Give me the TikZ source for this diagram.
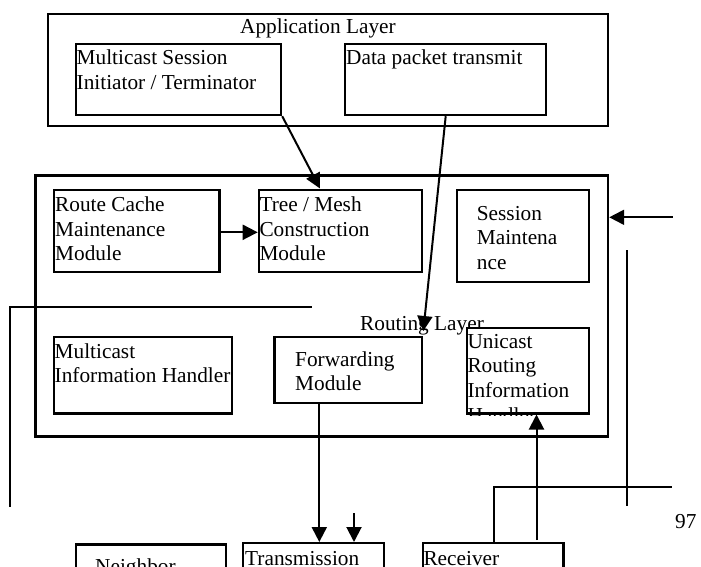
\documentclass[tikz,border=0pt]{standalone}
\usepackage{fontspec}
\setmainfont{Liberation Serif}
\usetikzlibrary{arrows.meta,calc}
\newcommand{\mlines}[1]{\begin{tabular}[t]{@{}l@{}}#1\end{tabular}}
\tikzset{
  box/.style={draw, line width=2.2pt, fill=white, inner sep=0pt, anchor=north west},
  outer/.style={draw, line width=2.5pt, inner sep=0pt, anchor=north west},
  lbl/.style={inner sep=0pt, anchor=base west, font=\fontsize{21.3}{24.6}\selectfont},
  conn/.style={line width=2pt},
  arr/.style={line width=2pt, -{Triangle[length=15pt,width=15pt]}}
}
\begin{document}
\begin{tikzpicture}[x=1pt,y=-1pt]
\useasboundingbox (0,0) rectangle (701,567);
\clip (0,0) rectangle (701,567);
% application layer
\node[outer, minimum width=560pt, minimum height=112.3pt] (app) at (46.7,12.7) {};
\node[lbl] (appl) at (240,33.3) {Application Layer};
\node[box, minimum width=205pt, minimum height=70.7pt] (msit) at (75,43.3) {};
\node[lbl] (msitl) at (76.5,65) {\mlines{Multicast Session\\Initiator / Terminator}};
\node[box, minimum width=201pt, minimum height=70.7pt] (dpt) at (344,43.3) {};
\node[lbl] (dptl) at (346,65) {Data packet transmit};
% routing layer
\node[outer, minimum width=572.7pt, minimum height=261pt] (rout) at (34,174) {};
\node[lbl] (routl) at (360,330) {Routing Layer};
\node[box, minimum width=165.6pt, minimum height=81.7pt] (rcm) at (52.7,189) {};
\node[lbl] (rcml) at (55,211.7) {\mlines{Route Cache\\Maintenance\\Module}};
\node[box, minimum width=163.3pt, minimum height=81.7pt] (tmc) at (257.7,189) {};
\node[lbl] (tmcl) at (259.3,211.7) {\mlines{Tree / Mesh\\Construction\\Module}};
\node[box, minimum width=131.7pt, minimum height=92pt] (sm) at (456,189) {};
\node[lbl] (sml) at (476.7,220) {\mlines{Session\\Maintena\\nce}};
\node[box, minimum width=178pt, minimum height=76.3pt] (mih) at (52.7,336) {};
\node[lbl] (mihl) at (54.5,358.3) {\mlines{Multicast\\Information Handler}};
\node[box, minimum width=147.7pt, minimum height=65.7pt] (fwd) at (273.3,336) {};
\node[lbl] (fwdl) at (295,366) {\mlines{Forwarding\\Module}};
\node[box, minimum width=121.7pt, minimum height=85.6pt] (urih) at (466,326.7) {};
\begin{scope}
\clip (466,326.7) rectangle (587.7,415);
\node[lbl] (urihl) at (467.3,348.3) {\mlines{Unicast\\Routing\\Information\\Handler}};
\end{scope}
% bottom boxes
\node[box, minimum width=150pt, minimum height=60pt] (nb) at (75,543.3) {};
\node[lbl] (nbl) at (95,573) {Neighbor};
\node[box, minimum width=140.7pt, minimum height=60pt] (tx) at (242,542) {};
\node[lbl] (txl) at (245,565) {Transmission};
\node[box, minimum width=140.8pt, minimum height=60pt] (rx) at (421.5,542) {};
\node[lbl] (rxl) at (423.3,565) {Receiver};
\node[lbl] (pg) at (675,528.3) {97};
% named free ends
\coordinate (tmcTip) at ($(tmc.north west)+(62.3,-0.5)$);
\coordinate (dptOut) at ($(dpt.south west)+(101.7,0)$);
\coordinate (fwdTip) at (423.3,331);
\coordinate (inStart) at (672.7,217.3);
\coordinate (Ltop) at (311.7,307.3);
\coordinate (Lcorner) at (10,307.3);
\coordinate (Lend) at (10,506.7);
\coordinate (Rtop) at (627.3,250);
\coordinate (Rend) at (627.3,505.7);
\coordinate (Hend) at (671.7,486.7);
\coordinate (Hcorner) at (494.3,486.7);
\coordinate (upStart) at (536.5,540);
\coordinate (smallStart) at (354,513.3);
% connectors
\draw[arr] (msit.south east) -- (tmcTip);
\draw[arr] (dptOut) -- (fwdTip);
\draw[arr] (rcm.east |- 0,232.3) -- (tmc.west |- 0,232.3);
\draw[arr] (inStart) -- (rout.east |- inStart);
\draw[conn] (Ltop) -- (Lcorner) -- (Lend);
\draw[conn] (Rtop) -- (Rend);
\draw[conn] (Hend) -- (Hcorner) -- (Hcorner |- rx.north);
\draw[arr] (upStart) -- (upStart |- urih.south);
\draw[arr] (fwd.south -| 319.3,0) -- (tx.north -| 319.3,0);
\draw[arr] (smallStart) -- (smallStart |- tx.north);
\end{tikzpicture}
\end{document}
